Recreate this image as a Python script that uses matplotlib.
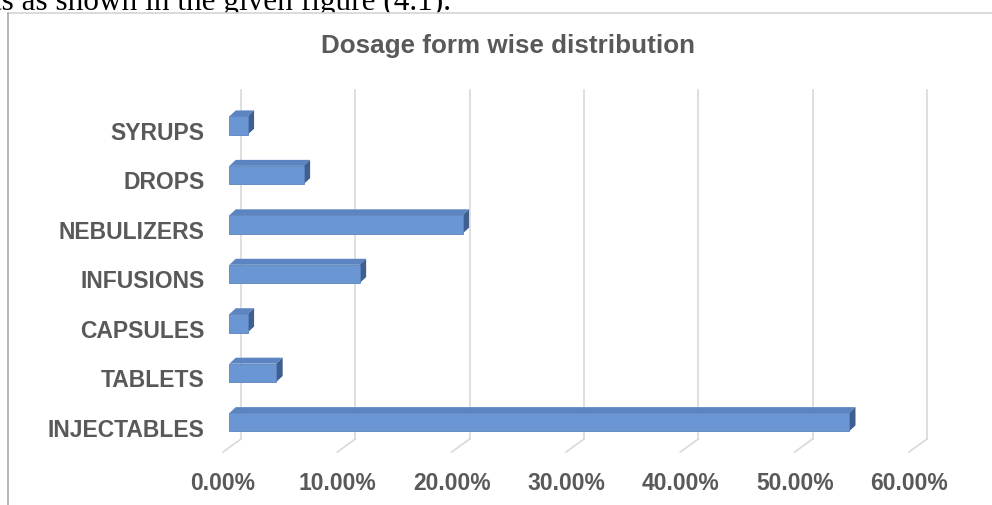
import matplotlib
matplotlib.use('Agg')
import matplotlib.pyplot as plt
from matplotlib.patches import Polygon, Rectangle
from matplotlib.lines import Line2D
from matplotlib.transforms import ScaledTranslation

# dosage form shares (%)
categories = ['INJECTABLES', 'TABLETS', 'CAPSULES', 'INFUSIONS',
              'NEBULIZERS', 'DROPS', 'SYRUPS']
shares = [54.2, 4.1, 1.6, 11.4, 20.4, 6.5, 1.6]
x_ticks = [0, 10, 20, 30, 40, 50, 60]
x_tick_labels = ['0.00%', '10.00%', '20.00%', '30.00%', '40.00%', '50.00%', '60.00%']

W, H = 992, 506
plt.rcParams['font.family'] = ['Liberation Sans', 'DejaVu Sans']
label_color = '#595959'
face_front = '#6a97d3'
face_top = '#5b84c0'
face_side = '#3e5f90'
grid_color = '#d9d9d9'

fig = plt.figure(figsize=(W / 100, H / 100), dpi=100)

# running sentence from the page above the chart frame
fig.text(-7 / W, 1 - 10 / H, 'ts as shown in the given figure (4.1).',
         family='Liberation Serif', fontsize=22.5, color='black',
         va='baseline', ha='left', zorder=-3)

# chart frame
fig.add_artist(Rectangle((8.3 / W, -0.1), 1.2, 1 - 13.5 / H + 0.1,
                         transform=fig.transFigure, facecolor='white',
                         edgecolor='none', zorder=-2))
fig.add_artist(Line2D([8.3 / W, 1.0], [1 - 13.5 / H] * 2, transform=fig.transFigure,
                      color='#d4d4d4', lw=1.2, zorder=-1))
fig.add_artist(Line2D([8.3 / W] * 2, [0, 1 - 13.5 / H], transform=fig.transFigure,
                      color='#a9a9a9', lw=1.2, zorder=-1))

fig.text(508 / W, 1 - 53.3 / H, 'Dosage form wise distribution', ha='center',
         va='baseline', fontsize=18.7, fontweight='bold', color=label_color)

y_lo, y_hi = -0.5, 6.55
ax = fig.add_axes([229.3 / W, 1 - 448 / H, 686 / W, 49.45 * (y_hi - y_lo) / H])
ax.set_xlim(0, 60)
ax.set_ylim(y_lo, y_hi)
ax.set_facecolor('none')
for s in ax.spines.values():
    s.set_visible(False)

# pixel size of one data unit, used for the depth of the pseudo-3D look
p0 = ax.transData.transform((0, 0))
p1 = ax.transData.transform((1, 1))
sx, sy = p1[0] - p0[0], p1[1] - p0[1]

# back wall gridlines and their floor diagonals
back_dx, back_dy = 11.7 / sx, 8 / sy
front_dx, front_dy = -6.3 / sx, -5 / sy
for t in x_ticks:
    ax.plot([t + back_dx] * 2, [y_lo + back_dy, y_hi + back_dy],
            color=grid_color, lw=1.2, zorder=1, clip_on=False)
    ax.plot([t + back_dx, t + front_dx], [y_lo + back_dy, y_lo + front_dy],
            color=grid_color, lw=1.2, zorder=1, clip_on=False)

# bars: front face plus top and side faces
pos = list(range(len(categories)))
bar_h = 0.37
bdx, bdy = 6.5 / sx, 6 / sy
ax.barh(pos, shares, height=bar_h, color=face_front, edgecolor='#5b83bd',
        linewidth=0.6, zorder=3)
for y, v in zip(pos, shares):
    top = y + bar_h / 2
    bot = y - bar_h / 2
    ax.add_patch(Polygon([(0, top), (v, top), (v + bdx, top + bdy), (bdx, top + bdy)],
                         closed=True, facecolor=face_top, edgecolor='none', zorder=2))
    ax.add_patch(Polygon([(v, bot), (v, top), (v + bdx, top + bdy), (v + bdx, bot + bdy)],
                         closed=True, facecolor=face_side, edgecolor='none', zorder=2))

ax.set_yticks(pos, categories)
ax.set_xticks(x_ticks, x_tick_labels)
ax.tick_params(axis='y', length=0, pad=18, labelsize=16.5, labelcolor=label_color)
ax.tick_params(axis='x', length=0, pad=17, labelsize=16.5, labelcolor=label_color)
for lab in ax.get_yticklabels():
    lab.set_fontweight('bold')
    lab.set_transform(lab.get_transform() + ScaledTranslation(0, -0.043, fig.dpi_scale_trans))
for lab in ax.get_xticklabels():
    lab.set_fontweight('bold')
    lab.set_transform(lab.get_transform() + ScaledTranslation(-0.063, 0, fig.dpi_scale_trans))

fig.savefig('out.png', dpi=100)
